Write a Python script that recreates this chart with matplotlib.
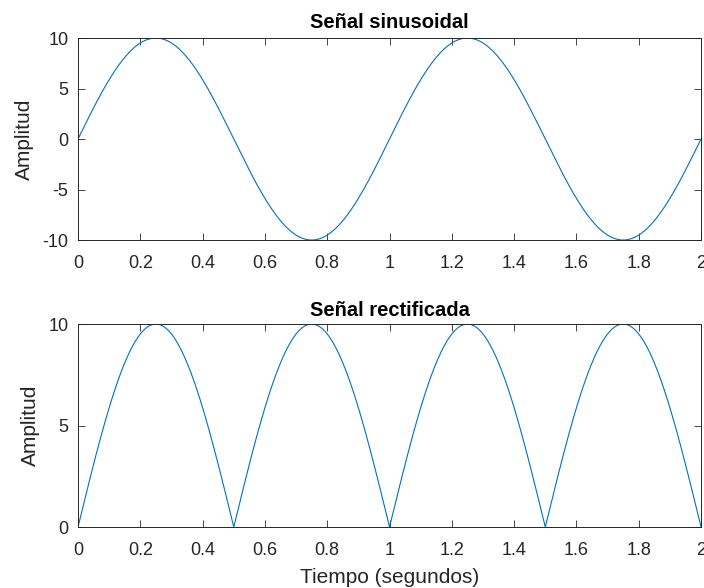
import numpy as np
import matplotlib
matplotlib.use('Agg')
import matplotlib.pyplot as plt

# signal parameters
amplitud = 10.0      # peak value
frecuencia = 1.0     # Hz, one period per second
duracion = 2.0       # seconds shown
fs = 1000            # samples per second

t = np.arange(0, duracion + 1.0 / fs, 1.0 / fs)
senal = amplitud * np.sin(2 * np.pi * frecuencia * t)
rectificada = np.abs(senal)

xticks = [0, 0.2, 0.4, 0.6, 0.8, 1, 1.2, 1.4, 1.6, 1.8, 2]
xticklabels = ['0', '0.2', '0.4', '0.6', '0.8', '1', '1.2', '1.4', '1.6', '1.8', '2']
yticks_top = [-10, -5, 0, 5, 10]
yticks_bot = [0, 5, 10]

plt.rcParams['font.family'] = ['Liberation Sans', 'DejaVu Sans']
plt.rcParams['axes.unicode_minus'] = False
gris = '#262626'
azul = '#0072BD'

fig = plt.figure(figsize=(7.04, 5.88), dpi=100)
ax1 = fig.add_axes([0.1108, 0.5918, 0.885, 0.3435])
ax2 = fig.add_axes([0.1108, 0.1037, 0.885, 0.3452])

def estilo(ax, yticks):
	ax.set_xlim(0, duracion)
	ax.set_xticks(xticks)
	ax.set_xticklabels(xticklabels)
	ax.set_yticks(yticks)
	ax.tick_params(direction='in', top=True, right=True, length=5, width=0.6,
		       colors=gris, labelsize=13)
	ax.tick_params(axis='x', pad=11)
	ax.tick_params(axis='y', pad=7)
	for s in ax.spines.values():
		s.set_color(gris)
		s.set_linewidth(0.7)
	ax.set_ylabel('Amplitud', fontsize=15, color=gris, labelpad=6)

ax1.plot(t, senal, color=azul, linewidth=0.8)
ax1.set_ylim(-amplitud, amplitud)
estilo(ax1, yticks_top)
ax1.set_title('Señal sinusoidal', fontsize=14.5, fontweight='bold', color='black', pad=7)

ax2.plot(t, rectificada, color=azul, linewidth=0.8)
ax2.set_ylim(0, amplitud)
estilo(ax2, yticks_bot)
ax2.set_title('Señal rectificada', fontsize=14.5, fontweight='bold', color='black', pad=6)
ax2.set_xlabel('Tiempo (segundos)', fontsize=15, color=gris, labelpad=6.5)

fig.savefig('out.png', dpi=100)
